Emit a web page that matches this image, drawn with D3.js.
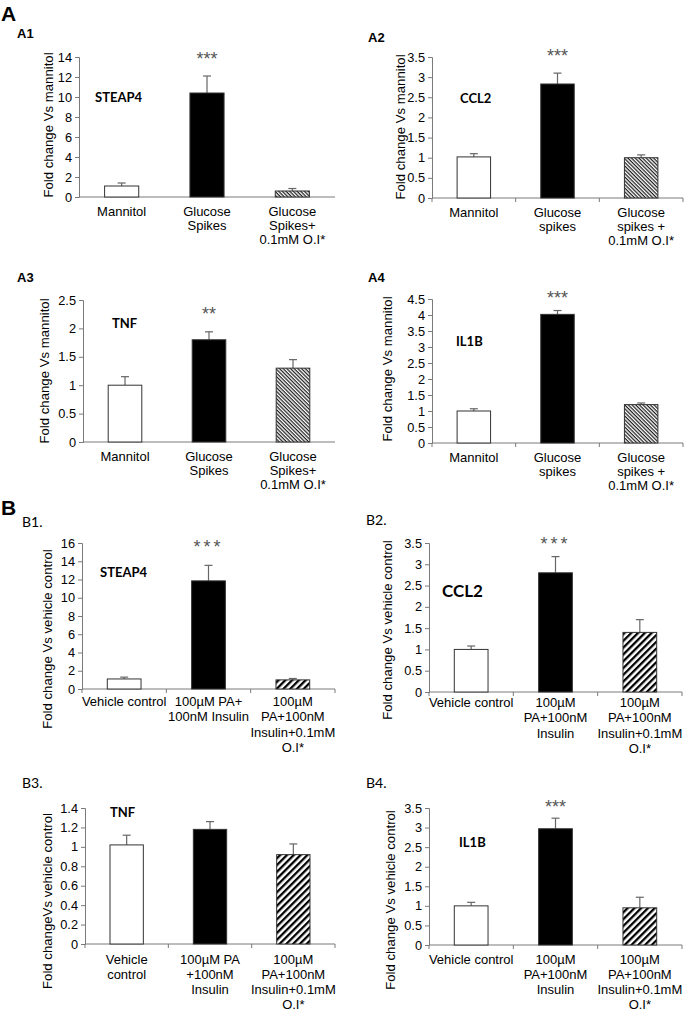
<!DOCTYPE html>
<html>
<head>
<meta charset="utf-8">
<script src="https://cdn.jsdelivr.net/npm/d3@7/dist/d3.min.js"></script>
<style>
  html, body { margin: 0; padding: 0; background: #fff; }
  svg { display: block; font-family: "Liberation Sans", Arial, sans-serif; }
</style>
</head>
<body>
<svg id="chart" width="685" height="1012"></svg>
<script>
// ---------------- DATA ----------------
const catsA1 = [["Mannitol"], ["Glucose", "Spikes"], ["Glucose", "Spikes+", "0.1mM O.I*"]];
const catsA2 = [["Mannitol"], ["Glucose", "spikes"], ["Glucose", "spikes +", "0.1mM O.I*"]];
const catsB1 = [["Vehicle control"], ["100µM PA+", "100nM Insulin"], ["100µM", "PA+100nM", "Insulin+0.1mM", "O.I*"]];
const catsB2 = [["Vehicle control"], ["100µM", "PA+100nM", "Insulin"], ["100µM", "PA+100nM", "Insulin+0.1mM", "O.I*"]];
const catsB3 = [["Vehicle", "control"], ["100µM PA", "+100nM", "Insulin"], ["100µM", "PA+100nM", "Insulin+0.1mM", "O.I*"]];

const valsA1 = [1.1, 10.4, 0.6];   const errA1 = [0.3, 1.7, 0.25];
const valsA2 = [1.02, 2.83, 1.0];  const errA2 = [0.08, 0.27, 0.07];
const valsA3 = [1.0, 1.8, 1.3];    const errA3 = [0.15, 0.14, 0.15];
const valsA4 = [1.0, 4.02, 1.2];   const errA4 = [0.07, 0.12, 0.05];
const valsB1 = [1.1, 11.85, 1.0];  const errB1 = [0.2, 1.7, 0.15];
const valsB2 = [1.0, 2.8, 1.4];    const errB2 = [0.08, 0.38, 0.3];
const valsB3 = [1.02, 1.18, 0.92]; const errB3 = [0.1, 0.08, 0.11];
const valsB4 = [1.0, 2.97, 0.95];  const errB4 = [0.09, 0.27, 0.27];

const ticksA1 = [0, 2, 4, 6, 8, 10, 12, 14];
const ticksA2 = [0, 0.5, 1, 1.5, 2, 2.5, 3, 3.5];
const ticksA3 = [0, 0.5, 1, 1.5, 2, 2.5];
const ticksA4 = [0, 0.5, 1, 1.5, 2, 2.5, 3, 3.5, 4, 4.5];
const ticksB1 = [0, 2, 4, 6, 8, 10, 12, 14, 16];
const ticksB2 = [0, 0.5, 1, 1.5, 2, 2.5, 3, 3.5];
const ticksB3 = [0, 0.2, 0.4, 0.6, 0.8, 1, 1.2, 1.4];
const ticksB4 = [0, 0.5, 1, 1.5, 2, 2.5, 3, 3.5];

const genes = ["STEAP4", "CCL2", "TNF", "IL1B", "STEAP4", "CCL2", "TNF", "IL1B"];
const panelNames = ["A1", "A2", "A3", "A4", "B1.", "B2.", "B3.", "B4."];
const signif = ["***", "***", "**", "***", "***", "***", "", "***"];
const yTitles = ["Fold change Vs mannitol", "Fold change Vs mannitol", "Fold change Vs mannitol", "Fold change Vs mannitol",
                 "Fold change Vs vehicle control", "Fold change Vs vehicle control", "Fold changeVs vehicle control", "Fold change Vs vehicle control"];

// ---------------- LAYOUT ----------------
const layout = [
  {cats: catsA1, vals: valsA1, err: errA1, ticks: ticksA1, x0: 79,  x1: 335, yT: 57,  yB: 197, xTicks: false, hatch: "hA",
   nm: [17, 38], gene: [95, 102, 13], sig: 65, sigStyle: "a", yt: [48, 125], lab: 19, lh: 14.2},
  {cats: catsA2, vals: valsA2, err: errA2, ticks: ticksA2, x0: 432, x1: 683, yT: 57,  yB: 198, xTicks: true, hatch: "hA",
   nm: [368, 42], gene: [460, 103, 13], sig: 62, sigStyle: "a", yt: [400, 127], lab: 19, lh: 14.2},
  {cats: catsA1, vals: valsA3, err: errA3, ticks: ticksA3, x0: 83,  x1: 335, yT: 300, yB: 442, xTicks: false, hatch: "hA",
   nm: [17, 282], gene: [112, 328, 13], sig: 320, sigStyle: "a", yt: [44, 371], lab: 19, lh: 14.2},
  {cats: catsA2, vals: valsA4, err: errA4, ticks: ticksA4, x0: 432, x1: 683, yT: 299, yB: 443, xTicks: true, hatch: "hA",
   nm: [368, 282], gene: [456, 346, 13], sig: 304, sigStyle: "a", yt: [387, 369], lab: 19, lh: 14.2},
  {cats: catsB1, vals: valsB1, err: errB1, ticks: ticksB1, x0: 82,  x1: 335, yT: 543, yB: 689, xTicks: true, hatch: "hB",
   nm: [22, 527], gene: [100, 577, 13], sig: 553, sigStyle: "b", yt: [47, 639], lab: 17, lh: 15.3},
  {cats: catsB2, vals: valsB2, err: errB2, ticks: ticksB2, x0: 429, x1: 682, yT: 543, yB: 692, xTicks: true, hatch: "hB",
   nm: [366, 525], gene: [442, 597, 17], sig: 550, sigStyle: "b", yt: [387, 630], lab: 15, lh: 15.3},
  {cats: catsB3, vals: valsB3, err: errB3, ticks: ticksB3, x0: 85,  x1: 335, yT: 808, yB: 944, xTicks: true, hatch: "hB",
   nm: [22, 788], gene: [110, 817, 13], sig: 0, sigStyle: "a", yt: [47, 901], lab: 20, lh: 15},
  {cats: catsB2, vals: valsB4, err: errB4, ticks: ticksB4, x0: 429, x1: 682, yT: 808, yB: 945, xTicks: true, hatch: "hB",
   nm: [366, 788], gene: [459, 847, 13], sig: 813, sigStyle: "a", yt: [390, 900], lab: 19, lh: 15}
];

const svg = d3.select("#chart");
const defs = svg.append("defs");

// Hatch patterns
const pA = defs.append("pattern").attr("id", "hA").attr("patternUnits", "userSpaceOnUse")
  .attr("width", 6).attr("height", 2.6).attr("patternTransform", "rotate(45)");
pA.append("rect").attr("width", 6).attr("height", 2.6).attr("fill", "#fff");
pA.append("rect").attr("width", 6).attr("height", 1.25).attr("fill", "#222");

const pB = defs.append("pattern").attr("id", "hB").attr("patternUnits", "userSpaceOnUse")
  .attr("width", 8).attr("height", 4.8).attr("patternTransform", "rotate(-45)");
pB.append("rect").attr("width", 8).attr("height", 4.8).attr("fill", "#fff");
pB.append("rect").attr("width", 8).attr("height", 2.3).attr("fill", "#000");

// Section letters
svg.append("text").attr("x", 1).attr("y", 21).attr("font-size", 21).attr("font-weight", "bold").text("A");
svg.append("text").attr("x", 1).attr("y", 515).attr("font-size", 21).attr("font-weight", "bold").text("B");

const fills = ["#fff", "#000", null];
const axisColor = "#7a7a7a";

layout.forEach((L, i) => {
  const g = svg.append("g");
  const x = d3.scaleBand().domain(d3.range(L.cats.length)).range([L.x0, L.x1]).paddingInner(0.6).paddingOuter(0.3);
  const y = d3.scaleLinear().domain([0, d3.max(L.ticks)]).range([L.yB, L.yT]);

  // Panel name
  const isB = i >= 4;
  g.append("text").attr("x", L.nm[0]).attr("y", L.nm[1])
    .attr("font-family", isB ? "Lato, 'Open Sans', sans-serif" : "'Liberation Sans', Arial, sans-serif")
    .attr("font-weight", isB ? "normal" : "bold")
    .attr("font-size", isB ? 14 : 13).text(panelNames[i]);

  // Y axis
  const ya = g.append("g").attr("transform", `translate(${L.x0},0)`)
    .call(d3.axisLeft(y).tickValues(L.ticks).tickSize(4).tickPadding(3).tickFormat(d3.format("~g")));
  ya.select(".domain").attr("stroke", axisColor);
  ya.selectAll(".tick line").attr("stroke", axisColor);
  ya.selectAll(".tick text").attr("font-size", 12.8).attr("fill", "#000")
    .attr("font-family", "'Liberation Sans', Arial, sans-serif");

  // X axis line + boundary ticks
  g.append("line").attr("x1", L.x0).attr("x2", L.x1).attr("y1", y(0)).attr("y2", y(0))
    .attr("stroke", axisColor).attr("stroke-width", 1);
  if (L.xTicks) {
    const bounds = d3.range(L.cats.length + 1).map(k => L.x0 + k * x.step() );
    g.selectAll(".xt").data(bounds).join("line")
      .attr("x1", d => d).attr("x2", d => d).attr("y1", y(0)).attr("y2", y(0) + 4)
      .attr("stroke", axisColor);
  }

  // Error bars (upper only)
  const eb = g.selectAll(".eb").data(L.vals.map((v, k) => ({v, e: L.err[k], k}))).join("g");
  eb.append("line").attr("x1", d => x(d.k) + x.bandwidth() / 2).attr("x2", d => x(d.k) + x.bandwidth() / 2)
    .attr("y1", d => y(d.v)).attr("y2", d => y(d.v + d.e)).attr("stroke", "#666").attr("stroke-width", 1.2);
  eb.append("line").attr("x1", d => x(d.k) + x.bandwidth() / 2 - 4).attr("x2", d => x(d.k) + x.bandwidth() / 2 + 4)
    .attr("y1", d => y(d.v + d.e)).attr("y2", d => y(d.v + d.e)).attr("stroke", "#666").attr("stroke-width", 1.2);

  // Bars
  g.selectAll(".bar").data(L.vals).join("rect")
    .attr("x", (d, k) => x(k)).attr("width", x.bandwidth())
    .attr("y", d => y(d)).attr("height", d => y(0) - y(d))
    .attr("fill", (d, k) => fills[k] || `url(#${L.hatch})`)
    .attr("stroke", "#333").attr("stroke-width", 1);

  // X labels
  L.cats.forEach((lines, k) => {
    const t = g.append("text").attr("text-anchor", "middle").attr("font-size", 13)
      .attr("x", x(k) + x.bandwidth() / 2).attr("y", y(0) + L.lab);
    lines.forEach((ln, j) => {
      t.append("tspan").attr("x", x(k) + x.bandwidth() / 2).attr("dy", j === 0 ? 0 : L.lh).text(ln);
    });
  });

  // Y title
  g.append("text").attr("text-anchor", "middle").attr("dominant-baseline", "central")
    .attr("font-size", 13.2)
    .attr("transform", `translate(${L.yt[0]},${L.yt[1]}) rotate(-90)`).text(yTitles[i]);

  // Gene name
  g.append("text").attr("x", L.gene[0]).attr("y", L.gene[1]).attr("font-size", L.gene[2])
    .attr("font-family", "Lato, 'Open Sans', sans-serif").attr("font-weight", "bold").text(genes[i]);

  // Significance
  if (signif[i]) {
    g.append("text").attr("text-anchor", "middle").attr("x", x(1) + x.bandwidth() / 2).attr("y", L.sig)
      .attr("fill", "#555").attr("font-size", 18)
      .attr("letter-spacing", L.sigStyle === "b" ? 3 : 0).text(signif[i]);
  }
});
</script>
</body>
</html>
